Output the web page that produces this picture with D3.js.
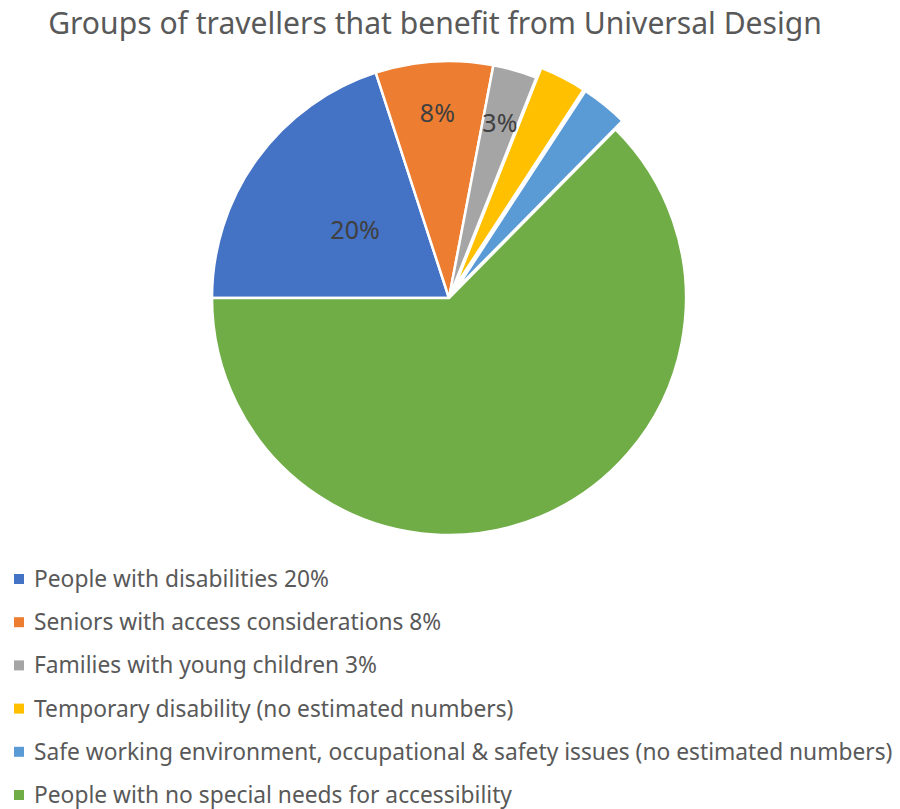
<!DOCTYPE html>
<html>
<head>
<meta charset="utf-8">
<script src="https://cdn.jsdelivr.net/npm/d3@7"></script>
<style>
  body { margin: 0; background: #fff; }
  svg { display: block; font-family: "Noto Sans", "Open Sans", sans-serif; }
</style>
</head>
<body>
<div id="chart"></div>
<script>
(function(){
// data
const categories = [
    "People with disabilities 20%",
    "Seniors with access considerations 8%",
    "Families with young children 3%",
    "Temporary disability (no estimated numbers)",
    "Safe working environment, occupational & safety issues (no estimated numbers)",
    "People with no special needs for accessibility"
];
const values = [20, 8, 3, 3.2, 3.2, 62.6];
const sliceLabels = ["20%", "8%", "3%", "", "", ""];
const exploded = [false, false, false, true, true, false];
const colors = ["#4472C4", "#ED7D31", "#A5A5A5", "#FFC000", "#5B9BD5", "#70AD47"];

const rows = categories.map((c, i) => ({ name: c, value: values[i], label: sliceLabels[i], explode: exploded[i], i: i }));

const W = 900, H = 809;
const cx = 449, cy = 298, R = 237;
const labelR = [0.49, 0.78, 0.77];

const svg = d3.select("#chart").append("svg")
    .attr("width", W)
    .attr("height", H);

// fit a text element to a target width
function fit(sel, target) {
    const len = sel.node().getComputedTextLength();
    const fs = parseFloat(sel.style("font-size"));
    sel.style("font-size", (fs * target / len) + "px");
}

// Title
const title = svg.append("text")
    .attr("x", 435)
    .attr("y", 34)
    .attr("text-anchor", "middle")
    .style("font-size", "30px")
    .attr("fill", "#595959")
    .text("Groups of travellers that benefit from Universal Design");
fit(title, 774);

// Pie
const pie = d3.pie()
    .value(d => d.value)
    .sort(null)
    .startAngle(1.5 * Math.PI)
    .endAngle(3.5 * Math.PI);

const arc = d3.arc().innerRadius(0).outerRadius(R);
const arcs = pie(rows);

const g = svg.append("g")
    .attr("transform", `translate(${cx},${cy})`);

g.selectAll("path.slice")
    .data(arcs)
    .enter()
    .append("path")
    .attr("class", "slice")
    .attr("d", arc)
    .attr("fill", d => colors[d.data.i])
    .attr("stroke", "#fff")
    .attr("stroke-width", 2.5)
    .attr("stroke-linejoin", "round")
    .attr("transform", d => {
        if (!d.data.explode) return null;
        const a = (d.startAngle + d.endAngle) / 2;
        return `translate(${11 * Math.sin(a)},${-11 * Math.cos(a)})`;
    });

// data labels
g.selectAll("text.lbl")
    .data(arcs.filter(d => d.data.label))
    .enter()
    .append("text")
    .attr("class", "lbl")
    .attr("x", d => {
        const a = (d.startAngle + d.endAngle) / 2;
        return R * labelR[d.data.i] * Math.sin(a);
    })
    .attr("y", d => {
        const a = (d.startAngle + d.endAngle) / 2;
        return -R * labelR[d.data.i] * Math.cos(a);
    })
    .attr("dy", "0.35em")
    .attr("text-anchor", "middle")
    .attr("fill", "#404040")
    .style("font-size", "25px")
    .text(d => d.data.label);

// Legend
const legend = svg.append("g")
    .attr("transform", "translate(14,579)");

const item = legend.selectAll("g")
    .data(rows)
    .enter()
    .append("g")
    .attr("transform", (d, i) => `translate(0,${i * 43.2})`);

item.append("rect")
    .attr("x", 0)
    .attr("y", -5)
    .attr("width", 10)
    .attr("height", 10)
    .attr("fill", d => colors[d.i]);

const lt = item.append("text")
    .attr("x", 20)
    .attr("y", 0)
    .attr("dy", "0.35em")
    .attr("fill", "#595959")
    .style("font-size", "20px")
    .text(d => d.name);

// size legend font from the longest entry
const longest = lt.filter(d => d.i === 4);
const len = longest.node().getComputedTextLength();
lt.style("font-size", (20 * 859 / len) + "px");

})();
</script>
</body>
</html>
